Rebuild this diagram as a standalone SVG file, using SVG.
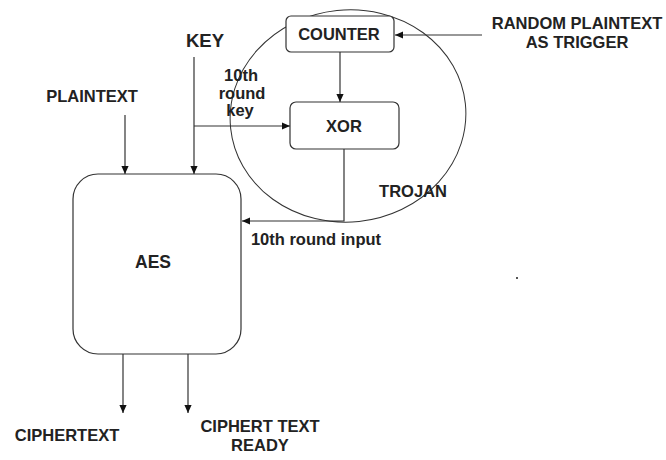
<svg xmlns="http://www.w3.org/2000/svg" width="666" height="460" viewBox="0 0 666 460">
<defs>
<marker id="ah" viewBox="0 0 10 10" refX="10" refY="5" markerWidth="8" markerHeight="8" markerUnits="userSpaceOnUse" orient="auto">
<path d="M0,0.5 L10,5 L0,9.5 z" fill="#111"/>
</marker>
<style>
.t{font-family:"Liberation Sans",Arial,sans-serif;font-weight:bold;font-size:16.5px;fill:#222;text-anchor:middle}
.box{fill:#fff;stroke:#333;stroke-width:1.2}
.ln{fill:none;stroke:#333;stroke-width:1.2}
.ar{fill:none;stroke:#333;stroke-width:1.2;marker-end:url(#ah)}
</style>
</defs>
<rect width="666" height="460" fill="#fff"/>
<g id="trojan">
<ellipse cx="348" cy="116" rx="118" ry="106" fill="none" stroke="#333" stroke-width="1" transform="rotate(-6 348 116)"/>
<text class="t" x="413" y="197">TROJAN</text>
</g>
<g id="connectors">
<line class="ar" x1="482" y1="35" x2="395" y2="35"/>
<line class="ar" x1="340" y1="52" x2="340" y2="102"/>
<line class="ar" x1="194" y1="57" x2="194" y2="174"/>
<line class="ar" x1="194" y1="126" x2="290" y2="126"/>
<line class="ar" x1="125" y1="115" x2="125" y2="174"/>
<polyline class="ar" points="344,149 344,221 242,221"/>
<line class="ar" x1="123" y1="354" x2="123" y2="413"/>
<line class="ar" x1="188" y1="354" x2="188" y2="413"/>
</g>
<g id="counter">
<rect class="box" x="286" y="16" width="108" height="36" rx="5"/>
<text class="t" x="339" y="40">COUNTER</text>
</g>
<g id="xor">
<rect class="box" x="290" y="102" width="109" height="47" rx="6"/>
<text class="t" x="344" y="132">XOR</text>
</g>
<g id="aes">
<rect class="box" x="73" y="174" width="168" height="180" rx="25"/>
<text class="t" x="153" y="268" style="font-size:17.5px">AES</text>
</g>
<g id="key"><text class="t" x="205" y="47" style="font-size:18.5px">KEY</text></g>
<g id="plaintext"><text class="t" x="92" y="102">PLAINTEXT</text></g>
<g id="random"><text class="t" x="577" y="29">RANDOM PLAINTEXT</text><text class="t" x="577" y="48">AS TRIGGER</text></g>
<g id="labels">
<text class="t" x="241" y="81">10th</text>
<text class="t" x="242" y="99">round</text>
<text class="t" x="240" y="116">key</text>
<text class="t" x="316" y="245">10th round input</text>
</g>
<g id="ciphertext"><text class="t" x="67" y="441">CIPHERTEXT</text></g>
<g id="ready"><text class="t" x="260" y="432">CIPHERT TEXT</text><text class="t" x="260" y="451">READY</text></g>
<rect x="516" y="277" width="2" height="2" fill="#555"/>
</svg>
